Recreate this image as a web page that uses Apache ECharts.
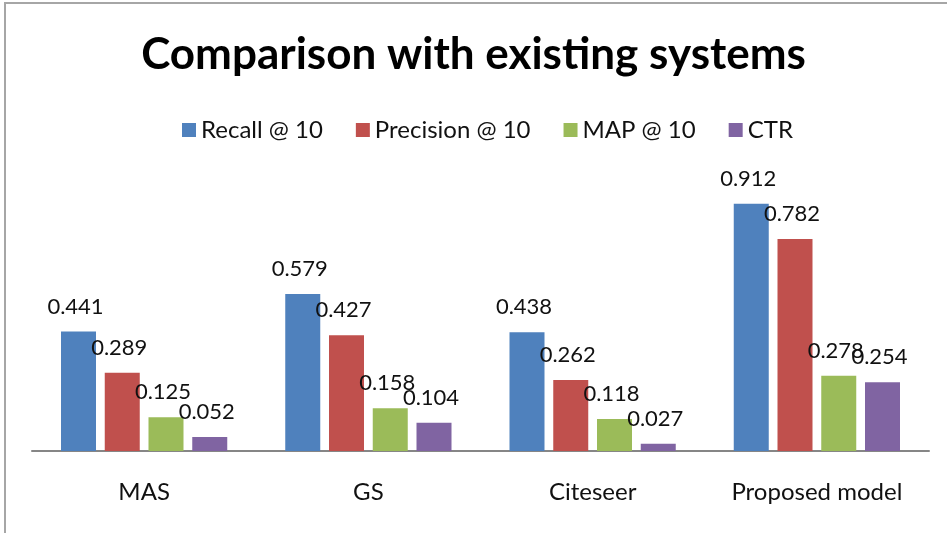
<!DOCTYPE html>
<html>
<head>
<meta charset="utf-8">
<script src="https://cdn.jsdelivr.net/npm/echarts@6/dist/echarts.min.js"></script>
<style>
  html, body { margin: 0; padding: 0; background: #fff; }
  #chart { width: 947px; height: 533px; }
</style>
</head>
<body>
<div id="chart"></div>
<script>
const categories = ['MAS', 'GS', 'Citeseer', 'Proposed model'];
const recall = [0.441, 0.579, 0.438, 0.912];
const precision = [0.289, 0.427, 0.262, 0.782];
const map = [0.125, 0.158, 0.118, 0.278];
const ctr = [0.052, 0.104, 0.027, 0.254];

const seriesNames = ['Recall @ 10', 'Precision @ 10', 'MAP @ 10', 'CTR'];
const colors = ['#4F81BD', '#C0504D', '#9BBB59', '#8064A2'];
const font = 'Lato';

let myChart = echarts.init(document.getElementById('chart'));

function bar(name, data, color) {
  return {
    name: name,
    type: 'bar',
    data: data,
    barWidth: 35,
    barGap: '25%',
    itemStyle: { color: color },
    label: {
      show: true,
      position: 'top',
      distance: 14,
      offset: [-3, 0],
      color: '#111',
      fontFamily: font,
      fontSize: 22,
      formatter: p => p.value.toFixed(3)
    }
  };
}

let option = {
  animation: false,
  color: colors,
  title: {
    text: 'Comparison with existing systems',
    left: 'center',
    top: 28,
    textStyle: { fontFamily: font, fontWeight: 'bold', fontSize: 44, color: '#000' }
  },
  legend: {
    top: 113,
    left: 177,
    itemWidth: 14,
    itemHeight: 14,
    itemGap: 33,
    icon: 'rect',
    textStyle: { fontFamily: font, fontSize: 24, color: '#111' },
    data: seriesNames
  },
  grid: { left: 32, right: 18, top: 180, bottom: 82 },
  xAxis: {
    type: 'category',
    data: categories,
    axisLine: { lineStyle: { color: '#868686', width: 2 } },
    axisTick: { show: false },
    axisLabel: { margin: 29, fontFamily: font, fontSize: 24, color: '#111' }
  },
  yAxis: {
    type: 'value',
    min: 0,
    max: 1,
    show: false,
    splitLine: { show: false }
  },
  graphic: [{
    type: 'rect',
    shape: { x: 5, y: 3, width: 1200, height: 800 },
    style: { fill: 'none', stroke: '#a6a6a6', lineWidth: 2 },
    silent: true
  }],
  series: [
    bar(seriesNames[0], recall, colors[0]),
    bar(seriesNames[1], precision, colors[1]),
    bar(seriesNames[2], map, colors[2]),
    bar(seriesNames[3], ctr, colors[3])
  ]
};

option && myChart.setOption(option);
</script>
</body>
</html>
